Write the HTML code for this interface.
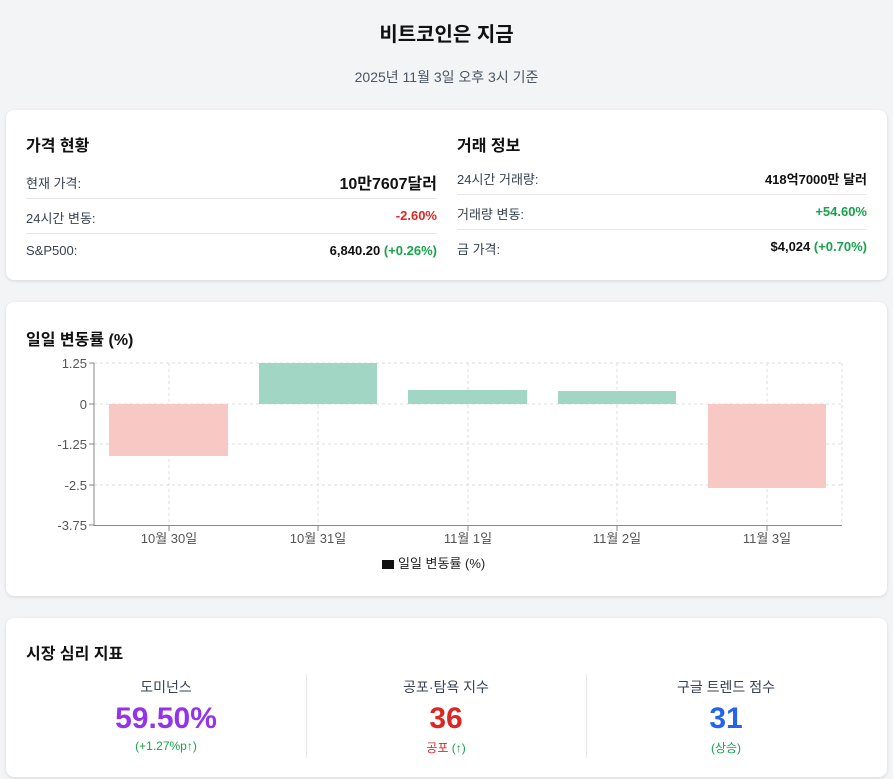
<!DOCTYPE html>
<html><head><meta charset="utf-8"><style>
body{margin:0;background:#f3f4f6;font-family:"Liberation Sans","Noto Sans CJK KR",sans-serif;width:893px;height:779px;overflow:hidden;position:relative;color:#111}
.card{position:absolute;left:6px;width:881px;background:#fff;border-radius:8px;box-shadow:0 1px 3px rgba(0,0,0,0.12)}
.t{position:absolute;white-space:nowrap}
.row{position:absolute;height:35px;border-bottom:1px solid #e5e7eb;font-size:13px;color:#374151}
.row span{position:absolute;top:10px}
.row b{position:absolute;right:0;top:10px;font-size:13px;color:#111}
</style></head><body>
<div class="t" style="left:0;width:893px;text-align:center;top:18px;font-size:20px;font-weight:bold">비트코인은 지금</div>
<div class="t" style="left:0;width:893px;text-align:center;top:67px;font-size:14px;color:#4b5563">2025년 11월 3일 오후 3시 기준</div>

<div class="card" style="top:110px;height:170px">
 <div class="t" style="left:20px;top:22px;font-size:16px;font-weight:bold">가격 현황</div>
 <div class="t" style="left:451px;top:22px;font-size:16px;font-weight:bold">거래 정보</div>
 <div class="row" style="left:20px;width:411px;top:53px"><span>현재 가격:</span><b style="font-size:16px;top:7px">10만7607달러</b></div>
 <div class="row" style="left:20px;width:411px;top:88px"><span>24시간 변동:</span><b style="color:#dc2626">-2.60%</b></div>
 <div class="row" style="left:20px;width:411px;top:123px;border:none"><span>S&amp;P500:</span><b>6,840.20 <span style="position:static;color:#16a34a">(+0.26%)</span></b></div>
 <div class="row" style="left:451px;width:410px;top:49px"><span>24시간 거래량:</span><b>418억7000만 달러</b></div>
 <div class="row" style="left:451px;width:410px;top:84px"><span>거래량 변동:</span><b style="color:#16a34a">+54.60%</b></div>
 <div class="row" style="left:451px;width:410px;top:119px;border:none"><span>금 가격:</span><b>$4,024 <span style="position:static;color:#16a34a">(+0.70%)</span></b></div>
</div>

<div class="card" style="top:302px;height:294px">
 <div class="t" style="left:20px;top:24px;font-size:16px;font-weight:bold">일일 변동률 (%)</div>
</div>
<svg style="position:absolute;left:0;top:0" width="893" height="779" font-family="Liberation Sans, Noto Sans CJK KR, sans-serif">
 <g stroke="#ddd" stroke-dasharray="3,3">
  <line x1="94" x2="842" y1="363" y2="363"/><line x1="94" x2="842" y1="404" y2="404"/><line x1="94" x2="842" y1="444" y2="444"/><line x1="94" x2="842" y1="485" y2="485"/>
  <line x1="169" x2="169" y1="363" y2="525"/><line x1="318" x2="318" y1="363" y2="525"/><line x1="468" x2="468" y1="363" y2="525"/><line x1="617" x2="617" y1="363" y2="525"/><line x1="767" x2="767" y1="363" y2="525"/><line x1="842" x2="842" y1="363" y2="525"/>
 </g>
 <rect x="109" y="404" width="119" height="52" fill="#f8c8c4"/>
 <rect x="259" y="363" width="118" height="41" fill="#a2d6c4"/>
 <rect x="408" y="390" width="119" height="14" fill="#a2d6c4"/>
 <rect x="558" y="391" width="118" height="13" fill="#a2d6c4"/>
 <rect x="708" y="404" width="118" height="84" fill="#f8c8c4"/>
 <g stroke="#888"><line x1="94" x2="94" y1="363" y2="526"/><line x1="94" x2="842" y1="525.5" y2="525.5"/>
 <line x1="89" x2="94" y1="363" y2="363"/><line x1="89" x2="94" y1="404" y2="404"/><line x1="89" x2="94" y1="444" y2="444"/><line x1="89" x2="94" y1="485" y2="485"/><line x1="89" x2="94" y1="525" y2="525"/>
 <line x1="169" x2="169" y1="525" y2="531"/><line x1="318" x2="318" y1="525" y2="531"/><line x1="468" x2="468" y1="525" y2="531"/><line x1="617" x2="617" y1="525" y2="531"/><line x1="767" x2="767" y1="525" y2="531"/></g>
 <g font-size="13" fill="#555" text-anchor="end">
  <text x="87" y="368">1.25</text><text x="87" y="409">0</text><text x="87" y="449">-1.25</text><text x="87" y="490">-2.5</text><text x="87" y="530">-3.75</text>
 </g>
 <g font-size="13" fill="#555" text-anchor="middle">
  <text x="169" y="543">10월 30일</text><text x="318" y="543">10월 31일</text><text x="468" y="543">11월 1일</text><text x="617" y="543">11월 2일</text><text x="767" y="543">11월 3일</text>
 </g>
 <rect x="382" y="560" width="12" height="9" fill="#111"/>
 <text x="398" y="568" font-size="13" fill="#222">일일 변동률 (%)</text>
</svg>

<div class="card" style="top:618px;height:159px">
 <div class="t" style="left:20px;top:22px;font-size:16px;font-weight:bold">시장 심리 지표</div>
 <div style="position:absolute;left:300px;top:56px;width:1px;height:84px;background:#e5e7eb"></div>
 <div style="position:absolute;left:580px;top:56px;width:1px;height:84px;background:#e5e7eb"></div>
 <div class="t" style="left:20px;width:280px;text-align:center;top:59px;font-size:14px;color:#374151">도미넌스</div>
 <div class="t" style="left:20px;width:280px;text-align:center;top:84px;font-size:30px;font-weight:bold;color:#9333ea">59.50%</div>
 <div class="t" style="left:20px;width:280px;text-align:center;top:121px;font-size:12px;color:#16a34a">(+1.27%p↑)</div>
 <div class="t" style="left:300px;width:280px;text-align:center;top:59px;font-size:14px;color:#374151">공포·탐욕 지수</div>
 <div class="t" style="left:300px;width:280px;text-align:center;top:84px;font-size:30px;font-weight:bold;color:#dc2626">36</div>
 <div class="t" style="left:300px;width:280px;text-align:center;top:121px;font-size:12px;color:#dc2626">공포 <span style="color:#16a34a">(↑)</span></div>
 <div class="t" style="left:580px;width:280px;text-align:center;top:59px;font-size:14px;color:#374151">구글 트렌드 점수</div>
 <div class="t" style="left:580px;width:280px;text-align:center;top:84px;font-size:30px;font-weight:bold;color:#2563eb">31</div>
 <div class="t" style="left:580px;width:280px;text-align:center;top:121px;font-size:12px;color:#16a34a">(상승)</div>
</div>
</body></html>
